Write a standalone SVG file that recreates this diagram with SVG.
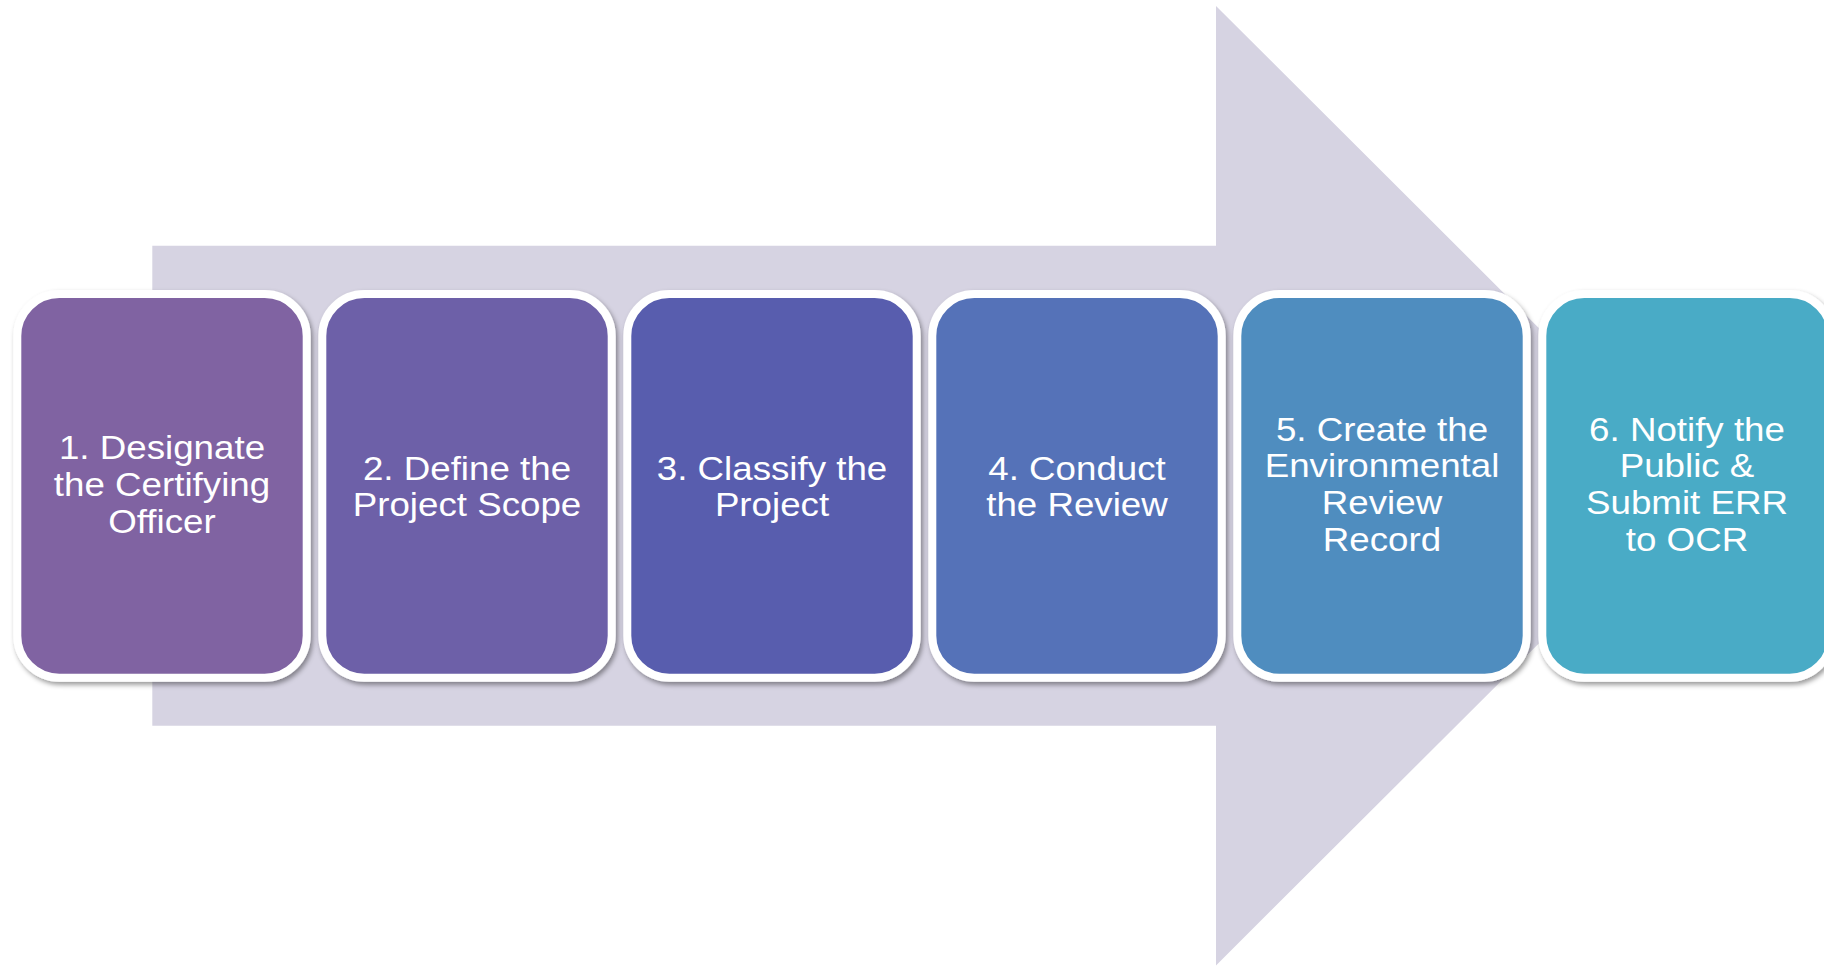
<svg xmlns="http://www.w3.org/2000/svg" width="1824" height="966" viewBox="0 0 1824 966">
  <defs>
    <filter id="shadow" x="-10%" y="-10%" width="125%" height="125%">
      <feDropShadow dx="2" dy="3" stdDeviation="2.5" flood-color="#000" flood-opacity="0.4"/>
    </filter>
  </defs>
  <style>
    .box { stroke: #FFFFFF; stroke-width: 8; filter: url(#shadow); }
    .lbl { font-family: "Liberation Sans", Arial, sans-serif; font-size: 34px; fill: #FFFFFF; text-anchor: middle; }
  </style>
  <rect width="1824" height="966" fill="#FFFFFF"/>
  <g id="connectors">
    <polygon id="big-arrow" points="152.3,245.7 1216,245.7 1216,6 1697,485.7 1216,965.4 1216,725.7 152.3,725.7" fill="#D6D3E2"/>
  </g>
  <g id="step1">
    <rect class="box" x="17.3" y="294" width="289.4" height="383.7" rx="42" ry="42" fill="#8064A2"/>
    <g transform="translate(162,0) scale(1.08,1)">
      <text class="lbl" x="0" y="459.3">1. Designate</text>
      <text class="lbl" x="0" y="496">the Certifying</text>
      <text class="lbl" x="0" y="532.7">Officer</text>
    </g>
  </g>
  <g id="step2">
    <rect class="box" x="322.3" y="294" width="289.4" height="383.7" rx="42" ry="42" fill="#6D60A8"/>
    <g transform="translate(467,0) scale(1.08,1)">
      <text class="lbl" x="0" y="479.8">2. Define the</text>
      <text class="lbl" x="0" y="516.5">Project Scope</text>
    </g>
  </g>
  <g id="step3">
    <rect class="box" x="627.3" y="294" width="289.4" height="383.7" rx="42" ry="42" fill="#585DAE"/>
    <g transform="translate(772,0) scale(1.08,1)">
      <text class="lbl" x="0" y="479.8">3. Classify the</text>
      <text class="lbl" x="0" y="516.5">Project</text>
    </g>
  </g>
  <g id="step4">
    <rect class="box" x="932.3" y="294" width="289.4" height="383.7" rx="42" ry="42" fill="#5572B8"/>
    <g transform="translate(1077,0) scale(1.08,1)">
      <text class="lbl" x="0" y="479.8">4. Conduct</text>
      <text class="lbl" x="0" y="516.5">the Review</text>
    </g>
  </g>
  <g id="step5">
    <rect class="box" x="1237.3" y="294" width="289.4" height="383.7" rx="42" ry="42" fill="#4F8DBF"/>
    <g transform="translate(1382,0) scale(1.08,1)">
      <text class="lbl" x="0" y="440.7">5. Create the</text>
      <text class="lbl" x="0" y="477.4">Environmental</text>
      <text class="lbl" x="0" y="514.1">Review</text>
      <text class="lbl" x="0" y="550.8">Record</text>
    </g>
  </g>
  <g id="step6">
    <rect class="box" x="1542.3" y="294" width="289.4" height="383.7" rx="42" ry="42" fill="#4AABC6"/>
    <g transform="translate(1687,0) scale(1.08,1)">
      <text class="lbl" x="0" y="440.7">6. Notify the</text>
      <text class="lbl" x="0" y="477.4">Public &amp;</text>
      <text class="lbl" x="0" y="514.1">Submit ERR</text>
      <text class="lbl" x="0" y="550.8">to OCR</text>
    </g>
  </g>
</svg>
